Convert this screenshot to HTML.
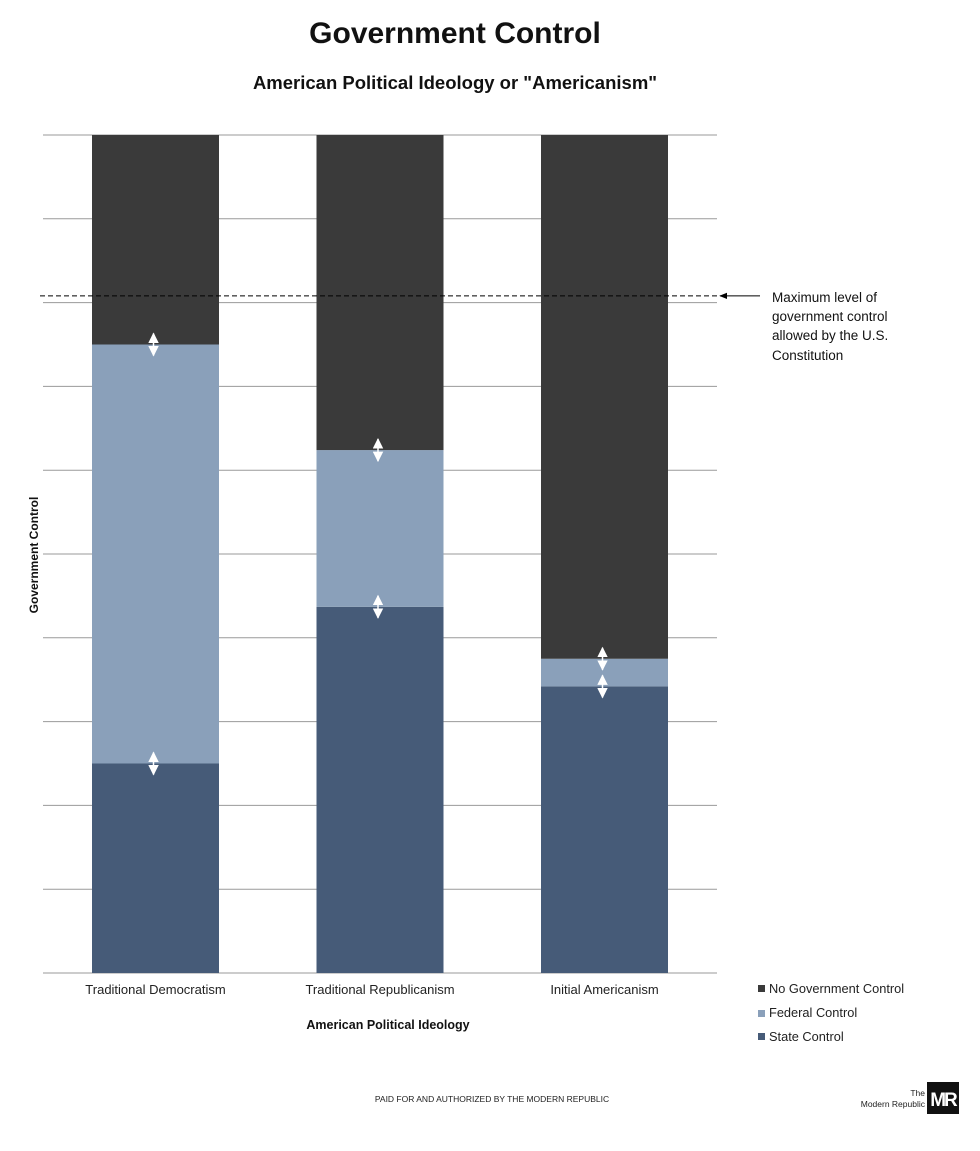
<!DOCTYPE html>
<html><head><meta charset="utf-8"><style>
body{margin:0;background:#fff;width:980px;height:1146px;overflow:hidden;font-family:"Liberation Sans",sans-serif}
</style></head><body>
<svg id="chart" width="980" height="1146" xmlns="http://www.w3.org/2000/svg" font-family="Liberation Sans, sans-serif">
<defs>
<marker id="ah" viewBox="0 0 10 10" refX="9" refY="5" markerWidth="7" markerHeight="7" orient="auto-start-reverse"><path d="M0,0 L10,5 L0,10 z" fill="#fff"/></marker>
<marker id="ak" viewBox="0 0 10 10" refX="9" refY="5" markerWidth="8" markerHeight="8" orient="auto"><path d="M0,1 L10,5 L0,9 z" fill="#000"/></marker>
</defs>
<text x="455" y="43" text-anchor="middle" font-size="30" font-weight="bold" fill="#111">Government Control</text>
<text x="455" y="89" text-anchor="middle" font-size="18.5" font-weight="bold" fill="#111">American Political Ideology or "Americanism"</text>
<g id="grid"></g>
<g id="bars"></g>
<g id="arrows"></g>
<line id="maxline" x1="40" x2="717" stroke="#000" stroke-dasharray="5,3" stroke-width="1"/>
<line id="maxptr" x1="760" x2="720" stroke="#000" stroke-width="1" marker-end="url(#ak)"/>
<text font-size="13.5" fill="#111">
<tspan x="772" y="302">Maximum level of</tspan><tspan x="772" y="321">government control</tspan><tspan x="772" y="340">allowed by the U.S.</tspan><tspan x="772" y="360">Constitution</tspan></text>
<text transform="translate(38,555) rotate(-90)" text-anchor="middle" font-size="12" font-weight="bold" fill="#111">Government Control</text>
<text x="388" y="1029" text-anchor="middle" font-size="12.5" font-weight="bold" fill="#111">American Political Ideology</text>
<g id="xlabels"></g>
<g>
<rect x="758" y="985" width="7" height="7" fill="#3a3a3a"/><text x="769" y="993" font-size="12.8" fill="#222">No Government Control</text>
<rect x="758" y="1010" width="7" height="7" fill="#8aa0ba"/><text x="769" y="1017" font-size="12.8" fill="#222">Federal Control</text>
<rect x="758" y="1033" width="7" height="7" fill="#465b78"/><text x="769" y="1041" font-size="12.8" fill="#222">State Control</text>
</g>
<text x="492" y="1102" text-anchor="middle" font-size="8.5" fill="#222">PAID FOR AND AUTHORIZED BY THE MODERN REPUBLIC</text>
<g>
<text x="925" y="1096" text-anchor="end" font-size="8.5" fill="#222">The</text>
<text x="925" y="1107" text-anchor="end" font-size="8.5" fill="#222">Modern Republic</text>
<rect x="927" y="1082" width="32" height="32" fill="#111"/>
<text x="943" y="1106" text-anchor="middle" font-size="19" font-weight="bold" fill="#fff" letter-spacing="-2">MR</text>
</g>
</svg>
<script>
const categories=["Traditional Democratism","Traditional Republicanism","Initial Americanism"];
const stateVals=[25,43.7,34.2];
const federalVals=[50,18.7,3.3];
const noneVals=[25,37.6,62.5];
const maxLevel=80.8;
const yTicks=[0,10,20,30,40,50,60,70,80,90,100];
const NS="http://www.w3.org/2000/svg";
const y0=973,y1=135;
function y(v){return y0-(v/100)*(y0-y1);}
function xc(i){return 155.5+i*224.5;}
const bw=127;
function mk(t,a,p){const e=document.createElementNS(NS,t);for(const k in a)e.setAttribute(k,a[k]);p.appendChild(e);return e;}
const grid=document.getElementById('grid');
yTicks.forEach(t=>{const l=mk('line',{x1:43,x2:717,y1:y(t),y2:y(t),stroke:'#9a9a9a','stroke-width':1},grid);

});
const bars=document.getElementById('bars'),arrows=document.getElementById('arrows'),xl=document.getElementById('xlabels');
categories.forEach((c,i)=>{
 const s=stateVals[i],f=federalVals[i],n=noneVals[i];
 const segs=[[0,s,'#465b78','bar-state'],[s,s+f,'#8aa0ba','bar-federal'],[s+f,s+f+n,'#3a3a3a','bar-none']];
 segs.forEach(g=>{const r=mk('rect',{x:xc(i)-bw/2,y:y(g[1]),width:bw,height:y(g[0])-y(g[1]),fill:g[2]},bars);
 
 });
 [s,s+f].forEach(b=>{const a=mk('line',{x1:xc(i)-2,x2:xc(i)-2,y1:y(b)-11,y2:y(b)+11,stroke:'#fff','stroke-width':1.5,'marker-start':'url(#ah)','marker-end':'url(#ah)'},arrows);
 
 });
 const t=mk('text',{x:xc(i),y:994,'text-anchor':'middle','font-size':13,fill:'#222'},xl);t.textContent=c;
 
 
});
const ml=document.getElementById('maxline');ml.setAttribute('y1',y(maxLevel));ml.setAttribute('y2',y(maxLevel));
const mp=document.getElementById('maxptr');mp.setAttribute('y1',y(maxLevel));mp.setAttribute('y2',y(maxLevel));
</script>
</body></html>
